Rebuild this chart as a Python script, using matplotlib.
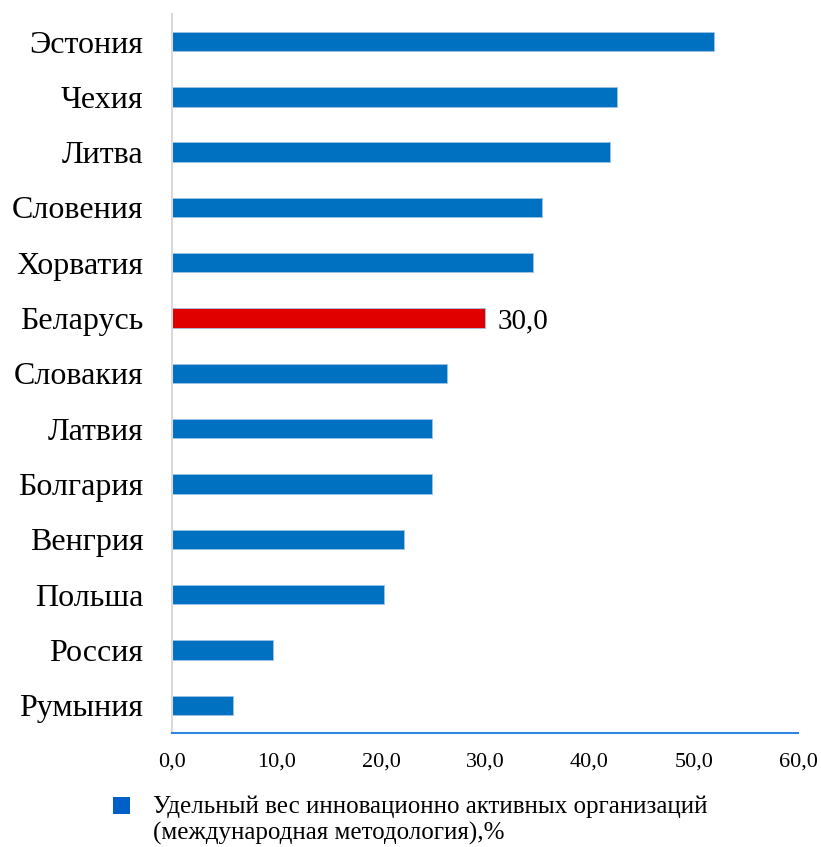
import matplotlib.pyplot as plt
from matplotlib.patches import Rectangle

countries = ['Эстония', 'Чехия', 'Литва', 'Словения', 'Хорватия', 'Беларусь',
             'Словакия', 'Латвия', 'Болгария', 'Венгрия', 'Польша', 'Россия', 'Румыния']
values = [51.9, 42.6, 42.0, 35.4, 34.6, 30.0, 26.3, 24.9, 24.9, 22.2, 20.3, 9.6, 5.8]
xticks = [0, 10, 20, 30, 40, 50, 60]
highlight = 'Беларусь'
legend_lines = ['Удельный вес инновационно активных организаций',
                '(международная методология),%']

plt.rcParams['font.family'] = ['Liberation Serif', 'DejaVu Serif']

W, H = 821, 847
fig = plt.figure(figsize=(W / 100, H / 100), dpi=100)
ax = fig.add_axes([0.2101, 0.1346, 0.7619, 0.849])

colors = ['#E00000' if c == highlight else '#0070C0' for c in countries]
pos = list(range(len(countries)))
ax.barh(pos, values, height=0.35, color=colors, edgecolor='#9DC3E6', linewidth=0.6)

# подпись значения только для Беларуси
i = countries.index(highlight)
ax.text(values[i] + 1.2, pos[i], f'{values[i]:.1f}'.replace('.', ','),
        va='center_baseline', ha='left', fontsize=21)

ax.set_xlim(0, 60)
ax.set_ylim(len(countries) - 0.5, -0.5)
ax.set_yticks(pos)
ax.set_yticklabels(countries, fontsize=23)
ax.set_xticks(xticks)
ax.set_xticklabels([f'{t:.1f}'.replace('.', ',') for t in xticks], fontsize=16)
ax.tick_params(axis='y', length=0, pad=21)
ax.tick_params(axis='x', length=0, pad=14)

for s in ['top', 'right']:
    ax.spines[s].set_visible(False)
ax.spines['left'].set_color('#D9D9D9')
ax.spines['left'].set_linewidth(1.5)
ax.spines['bottom'].set_color('#2E86DE')
ax.spines['bottom'].set_linewidth(1.5)

# легенда: квадрат + две строки подписи
fig.add_artist(Rectangle((113 / W, 1 - 814 / H), 17 / W, 17 / H,
                         transform=fig.transFigure, facecolor='#0060C8', edgecolor='none'))
for k, line in enumerate(legend_lines):
    fig.text(153 / W, 1 - (813 + 27 * k) / H, line, fontsize=18, va='baseline', ha='left')

fig.savefig('out.png', dpi=100)
